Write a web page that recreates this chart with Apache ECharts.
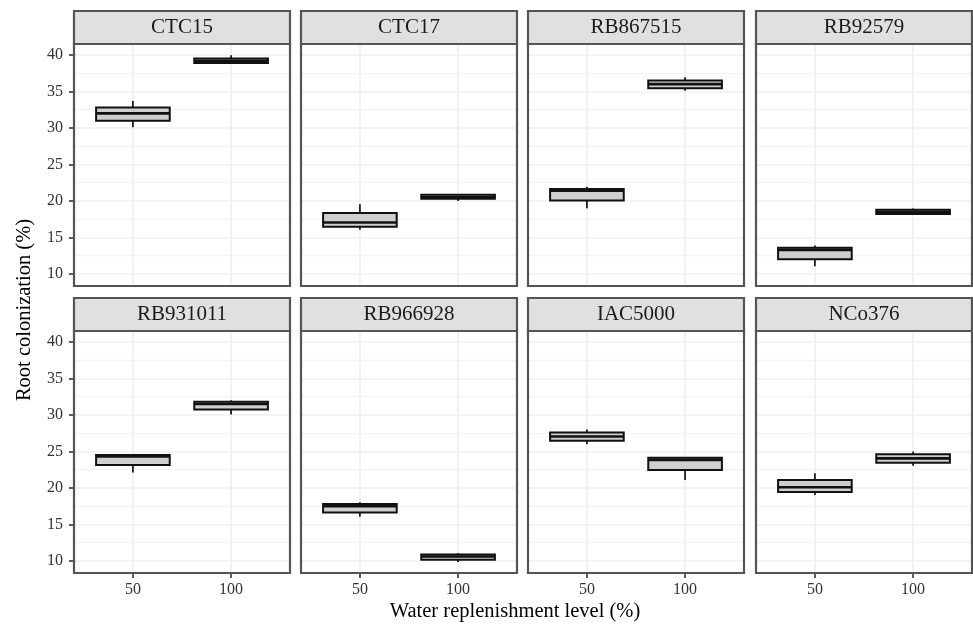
<!DOCTYPE html>
<html>
<head>
<meta charset="utf-8">
<script src="https://cdn.jsdelivr.net/npm/echarts@6/dist/echarts.min.js"></script>
<style>
  html, body { margin: 0; padding: 0; background: #fff; }
  #chart { width: 973px; height: 627px; }
</style>
</head>
<body>
<div id="chart"></div>
<script>
// 分面：甘蔗品种
const genotypes = ['CTC15', 'CTC17', 'RB867515', 'RB92579', 'RB931011', 'RB966928', 'IAC5000', 'NCo376']
// 补水水平（x 轴类别）
const levels = ['50', '100']
// 每个箱线：[min, Q1, median, Q3, max]
const boxes50 = [
  [30.1, 31.0, 32.0, 32.8, 33.7],
  [16.05, 16.45, 17.05, 18.35, 19.55],
  [19.0, 20.05, 21.4, 21.65, 21.95],
  [11.05, 12.0, 13.3, 13.6, 13.9],
  [22.1, 23.15, 24.3, 24.5, 24.5],
  [16.05, 16.65, 17.5, 17.8, 18.05],
  [26.0, 26.45, 27.05, 27.6, 28.0],
  [19.05, 19.45, 20.1, 21.1, 22.0]
]
const boxes100 = [
  [38.85, 38.9, 39.2, 39.5, 39.95],
  [20.0, 20.3, 20.55, 20.85, 20.9],
  [35.1, 35.45, 36.0, 36.5, 36.95],
  [18.1, 18.2, 18.5, 18.8, 18.95],
  [30.05, 30.75, 31.5, 31.8, 32.0],
  [9.85, 10.15, 10.6, 10.9, 11.1],
  [21.1, 22.45, 23.85, 24.15, 24.15],
  [23.05, 23.45, 24.05, 24.6, 25.0]
]
const yTicks = [10, 15, 20, 25, 30, 35, 40]
const yMinorTicks = [12.5, 17.5, 22.5, 27.5, 32.5, 37.5]
const xTicks = [1, 2]

// 版式
const colLeft = [74, 301, 528, 756]
const panelW = 216
const stripH = 33
const plotTop = [44, 331]
const plotH = 242
const serif = '"Liberation Serif", "Times New Roman", serif'

const myChart = echarts.init(document.getElementById('chart'))

function renderBox(params, api) {
  const x = api.value(0)
  const pMin = api.coord([x, api.value(1)])
  const pQ1 = api.coord([x, api.value(2)])
  const pMed = api.coord([x, api.value(3)])
  const pQ3 = api.coord([x, api.value(4)])
  const pMax = api.coord([x, api.value(5)])
  const w = api.size([0.75, 0])[0]
  const cx = pMed[0]
  const whisker = { stroke: '#111', lineWidth: 1.7 }
  return {
    type: 'group',
    children: [
      { type: 'line', shape: { x1: cx, y1: pMin[1], x2: cx, y2: pQ1[1] }, style: whisker },
      { type: 'line', shape: { x1: cx, y1: pQ3[1], x2: cx, y2: pMax[1] }, style: whisker },
      {
        type: 'rect',
        shape: { x: cx - w / 2, y: pQ3[1], width: w, height: pQ1[1] - pQ3[1] },
        style: { fill: '#CFCFCF', stroke: '#111', lineWidth: 2 }
      },
      {
        type: 'line',
        shape: { x1: cx - w / 2, y1: pMed[1], x2: cx + w / 2, y2: pMed[1] },
        style: { stroke: '#111', lineWidth: 2.6 }
      }
    ]
  }
}

const grid = []
const xAxis = []
const yAxis = []
const series = []
const graphic = []

genotypes.forEach((name, i) => {
  const row = Math.floor(i / 4)
  const col = i % 4
  const left = colLeft[col]
  const top = plotTop[row]
  const bottomRow = row === 1
  const firstCol = col === 0

  grid.push({ left: left, top: top, width: panelW, height: plotH, show: true, backgroundColor: '#fff', borderWidth: 0 })

  xAxis.push({
    gridIndex: i,
    type: 'value',
    min: 0.4,
    max: 2.6,
    axisLine: { show: false },
    axisTick: { show: bottomRow, customValues: xTicks, length: 5, lineStyle: { color: '#333', width: 1.6 } },
    axisLabel: {
      show: bottomRow,
      customValues: xTicks,
      formatter: v => levels[Math.round(v) - 1],
      margin: 9,
      color: '#333',
      fontFamily: serif,
      fontSize: 16
    },
    splitLine: { show: true, lineStyle: { color: '#F0F0F0', width: 1.7 } }
  })

  // 主刻度
  yAxis.push({
    gridIndex: i,
    type: 'value',
    min: 8.35,
    max: 41.5,
    axisLine: { show: false },
    axisTick: { show: firstCol, customValues: yTicks, length: 5, lineStyle: { color: '#333', width: 1.6 } },
    axisLabel: { show: firstCol, customValues: yTicks, margin: 11, color: '#333', fontFamily: serif, fontSize: 16 },
    splitLine: { show: true, lineStyle: { color: '#F0F0F0', width: 1.7 } }
  })
  // 次网格线
  yAxis.push({
    gridIndex: i,
    type: 'value',
    position: 'left',
    min: 8.35,
    max: 41.5,
    axisLine: { show: false },
    axisTick: { show: false, customValues: yMinorTicks },
    axisLabel: { show: false },
    splitLine: { show: true, lineStyle: { color: '#F4F4F4', width: 1.4 } }
  })

  series.push({
    type: 'custom',
    name: name,
    xAxisIndex: i,
    yAxisIndex: i * 2,
    renderItem: renderBox,
    encode: { x: 0, y: [1, 2, 3, 4, 5] },
    data: levels.map((lv, k) => [k + 1].concat(k === 0 ? boxes50[i] : boxes100[i])),
    z: 5
  })

  // 分面标题条
  graphic.push({
    type: 'rect',
    shape: { x: left, y: top - stripH, width: panelW, height: stripH },
    style: { fill: '#E0E0E0', stroke: '#555', lineWidth: 2.2 },
    z: 10
  })
  graphic.push({
    type: 'text',
    x: left + panelW / 2,
    y: top - stripH / 2,
    style: { text: name, font: '21px ' + serif, fill: '#1A1A1A', align: 'center', verticalAlign: 'middle' },
    z: 11
  })
  // 面板边框
  graphic.push({
    type: 'rect',
    shape: { x: left, y: top, width: panelW, height: plotH },
    style: { fill: 'none', stroke: '#555', lineWidth: 2.2 },
    z: 10
  })
})

graphic.push({
  type: 'text',
  x: 515,
  y: 612,
  style: { text: 'Water replenishment level (%)', font: '20.5px ' + serif, fill: '#000', align: 'center', verticalAlign: 'middle' },
  z: 11
})
graphic.push({
  type: 'text',
  x: 25,
  y: 310,
  rotation: Math.PI / 2,
  style: { text: 'Root colonization (%)', font: '20.5px ' + serif, fill: '#000', align: 'center', verticalAlign: 'middle' },
  z: 11
})

const option = {
  animation: false,
  backgroundColor: '#fff',
  grid: grid,
  xAxis: xAxis,
  yAxis: yAxis,
  series: series,
  graphic: graphic
}

myChart.setOption(option)
</script>
</body>
</html>
